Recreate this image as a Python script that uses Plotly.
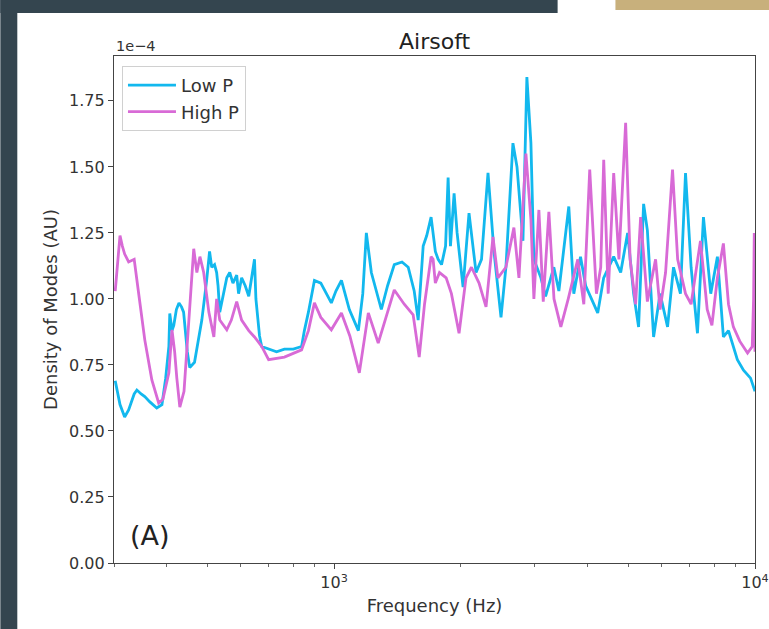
import plotly.graph_objects as go

# ---- data (frequency in Hz, density in units of 1e-4) ----
low_f = [302, 310, 318, 325, 335, 340, 348, 355, 365, 379, 390, 398, 405, 407, 412, 416, 422, 428, 434, 439,
         448, 454, 466, 485, 498, 506, 512, 520, 526, 530, 535, 545, 556, 565, 575, 587, 593, 603, 615, 627,
         640, 647, 652, 665, 673, 699, 730, 762, 800, 837, 850, 869, 898, 930, 960, 985, 1010, 1041, 1087, 1142,
         1170, 1193, 1226, 1295, 1340, 1390, 1450, 1500, 1550, 1584, 1628, 1660, 1700, 1740, 1767, 1800, 1840, 1866, 1890, 1928,
         1960, 2025, 2092, 2174, 2240, 2321, 2398, 2450, 2492, 2560, 2660, 2720, 2810, 2871, 2935, 2983, 3100, 3180, 3327, 3420,
         3611, 3711, 3850, 3960, 4230, 4370, 4616, 4796, 4982, 5148, 5290, 5437, 5550, 5742, 5950, 6198, 6404, 6650, 6838, 7050,
         7300, 7543, 7850, 8141, 8412, 8650, 9080, 9390, 9760, 10000]
low_v = [0.69, 0.60, 0.553, 0.58, 0.64, 0.655, 0.64, 0.63, 0.61, 0.587, 0.60, 0.70, 0.82, 0.945, 0.88, 0.90, 0.96, 0.985, 0.97, 0.95,
         0.80, 0.74, 0.76, 0.92, 1.07, 1.18, 1.12, 1.13, 1.10, 1.05, 0.95, 1.02, 1.08, 1.10, 1.06, 1.09, 1.02, 1.08, 1.05, 1.01,
         1.10, 1.15, 1.00, 0.86, 0.82, 0.81, 0.80, 0.81, 0.81, 0.82, 0.88, 0.95, 1.07, 1.06, 1.02, 0.985, 1.03, 1.07, 0.96, 0.88,
         1.02, 1.25, 1.10, 0.96, 1.05, 1.13, 1.14, 1.12, 1.03, 0.92, 1.20, 1.24, 1.31, 1.18, 1.15, 1.13, 1.20, 1.46, 1.20, 1.40,
         1.25, 1.045, 1.325, 1.10, 1.15, 1.477, 1.18, 1.05, 0.93, 1.12, 1.59, 1.50, 1.22, 1.84, 1.59, 1.15, 1.08, 1.01, 1.12, 1.03,
         1.35, 1.02, 1.16, 1.05, 0.947, 1.08, 1.16, 1.10, 1.25, 1.02, 0.894, 1.36, 1.26, 0.856, 1.02, 0.894, 1.12, 1.02, 1.477, 1.12,
         0.87, 1.31, 1.02, 1.16, 0.856, 0.88, 0.77, 0.73, 0.70, 0.65]

high_f = [302, 306, 310, 314, 318, 325, 335, 344, 355, 369, 383, 392, 405, 412, 418, 423, 430, 440, 454, 464,
          472, 480, 490, 504, 518, 526, 535, 556, 570, 587, 603, 627, 647, 673, 699, 762, 837, 869, 898, 930,
          985, 1041, 1090, 1148, 1206, 1273, 1390, 1468, 1541, 1593, 1640, 1700, 1719, 1740, 1780, 1846, 1900, 1981, 2058, 2120,
          2210, 2296, 2385, 2450, 2560, 2674, 2749, 2856, 2935, 2983, 3066, 3140, 3238, 3330, 3457, 3600, 3793, 3920, 4049, 4200,
          4300, 4371, 4480, 4616, 4750, 4928, 5050, 5204, 5349, 5550, 5805, 5950, 6131, 6369, 6550, 6838, 7050, 7420, 7700, 7900,
          8141, 8412, 8650, 8884, 9200, 9600, 9850, 9923, 9960, 10000]
high_v = [1.03, 1.15, 1.24, 1.20, 1.17, 1.14, 1.15, 1.01, 0.845, 0.693, 0.606, 0.62, 0.72, 0.883, 0.80, 0.70, 0.59, 0.65, 0.947, 1.19,
          1.10, 1.16, 1.10, 0.95, 0.856, 1.00, 0.92, 0.883, 0.92, 0.99, 0.92, 0.88, 0.856, 0.82, 0.77, 0.78, 0.807, 0.88, 0.985, 0.93,
          0.883, 0.947, 0.86, 0.72, 0.947, 0.833, 1.034, 0.98, 0.94, 0.78, 0.98, 1.16, 1.15, 1.06, 1.10, 1.08, 1.02, 0.87, 1.08, 1.12,
          1.06, 0.97, 1.235, 1.08, 1.12, 1.27, 1.08, 1.55, 1.30, 1.00, 1.337, 0.99, 1.33, 1.00, 0.894, 1.00, 1.15, 0.98, 1.49, 1.02,
          1.12, 1.527, 1.02, 1.477, 1.15, 1.667, 1.15, 0.98, 1.31, 0.99, 1.15, 0.96, 1.10, 1.49, 1.15, 1.02, 0.98, 1.22, 0.96, 0.90,
          1.08, 1.21, 0.98, 0.894, 0.84, 0.795, 0.82, 1.00, 1.25, 0.80]

y_ticks = [0.0, 0.25, 0.5, 0.75, 1.0, 1.25, 1.5, 1.75]
x_ticks = [1000, 10000]
x_tick_text = ["10<sup>3</sup>", "10<sup>4</sup>"]
x_minor = [300, 400, 500, 600, 700, 800, 900, 2000, 3000, 4000, 5000, 6000, 7000, 8000, 9000]

# ---- layout geometry (reference pixels) ----
W, H = 769, 629
L, R, T, B = 112, 755, 56, 563
pw, ph = R - L, B - T
KX = 781 / 769  # horizontal compensation for the page render


def px(x):
    return (x - L) / pw


def py(y):
    return (B - y) / ph


fig = go.Figure()
fig.add_trace(go.Scatter(x=low_f, y=low_v, mode="lines", name="Low P",
                         line=dict(color="#12b8ee", width=2.8)))
fig.add_trace(go.Scatter(x=high_f, y=high_v, mode="lines", name="High P",
                         line=dict(color="#d86ad6", width=2.8)))

font = "DejaVu Sans"
axis_col = "#444444"
fig.update_layout(
    width=round(W * KX), height=H, autosize=False,
    margin=dict(l=round(L * KX), r=round((W - R) * KX), t=T, b=H - B),
    paper_bgcolor="white", plot_bgcolor="white",
    font=dict(family=font, size=16, color="#333333"),
    showlegend=True,
    legend=dict(x=px(120), y=py(66), xanchor="left", yanchor="top",
                bgcolor="rgba(255,255,255,0.9)", bordercolor="#d0d0d0", borderwidth=1,
                font=dict(size=18, color="#333333"), tracegroupgap=0, itemwidth=48),
)
fig.update_xaxes(type="log", range=[2.4771, 4.0], tickvals=x_ticks, ticktext=x_tick_text,
                 ticks="outside", ticklen=5, tickcolor=axis_col, showline=True, linecolor=axis_col,
                 linewidth=1.2, mirror=True, showgrid=False, zeroline=False,
                 tickfont=dict(size=16),
                 minor=dict(tickvals=x_minor, ticks="outside", ticklen=3, tickcolor="#666666", showgrid=False),
                 title=dict(text="Frequency (Hz)", font=dict(size=18), standoff=8))
fig.update_yaxes(range=[0, 1.92], tickvals=y_ticks, tickformat=".2f",
                 ticks="outside", ticklen=5, tickcolor=axis_col, showline=True, linecolor=axis_col,
                 linewidth=1.2, mirror=True, showgrid=False, zeroline=False,
                 tickfont=dict(size=16),
                 title=dict(text="Density of Modes (AU)", font=dict(size=18), standoff=6))

fig.add_annotation(text="Airsoft", x=0.5, y=py(41), xref="paper", yref="paper",
                   showarrow=False, font=dict(size=22, color="#222222"), yanchor="middle")
fig.add_annotation(text="1e\u22124", x=0, y=py(46), xref="paper", yref="paper", xanchor="left",
                   showarrow=False, font=dict(size=14.5, color="#333333"), yanchor="middle")
fig.add_annotation(text="(A)", x=px(126), y=py(535), xref="paper", yref="paper", xanchor="left",
                   showarrow=False, font=dict(size=27, color="#222222"), yanchor="middle")

# slide background pieces around the chart image
bg = "#34454f"
fig.add_shape(type="rect", xref="paper", yref="paper", x0=px(-2), x1=px(15), y0=py(H + 2), y1=py(-2),
              fillcolor=bg, line_width=0)
fig.add_shape(type="rect", xref="paper", yref="paper", x0=px(-2), x1=px(557), y0=py(13), y1=py(-2),
              fillcolor=bg, line_width=0)
fig.add_shape(type="rect", xref="paper", yref="paper", x0=px(615), x1=px(W + 12), y0=py(10), y1=py(-2),
              fillcolor="#c8b07c", line_width=0)

fig.write_html("out.html",
               config={"displayModeBar": False, "responsive": False},
               post_script="document.body.style.margin='0px';document.body.style.overflow='hidden';")
